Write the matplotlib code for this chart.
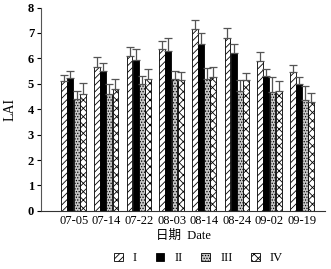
import matplotlib
matplotlib.use("Agg")
import matplotlib.pyplot as plt
import numpy as np
from matplotlib.patches import Patch

plt.rcParams['font.family'] = ['Liberation Serif', 'Noto Sans CJK SC']
plt.rcParams['hatch.linewidth'] = 0.6

dates = ["07-05", "07-14", "07-22", "08-03", "08-14", "08-24", "09-02", "09-19"]
series_names = ["I", "II", "III", "IV"]
lai_I = [5.10, 5.65, 6.08, 6.35, 7.15, 6.80, 5.88, 5.45]
lai_II = [5.22, 5.50, 5.95, 6.30, 6.55, 6.22, 5.30, 5.00]
lai_III = [4.40, 4.60, 5.00, 5.20, 5.20, 4.72, 4.67, 4.35]
lai_IV = [4.60, 4.80, 5.20, 5.15, 5.28, 5.15, 4.73, 4.30]
err_I = [0.25, 0.40, 0.37, 0.35, 0.37, 0.40, 0.37, 0.30]
err_II = [0.28, 0.30, 0.40, 0.50, 0.43, 0.36, 0.30, 0.28]
err_III = [0.30, 0.40, 0.30, 0.30, 0.43, 0.43, 0.58, 0.55]
err_IV = [0.45, 0.40, 0.38, 0.30, 0.37, 0.27, 0.38, 0.35]

values = [lai_I, lai_II, lai_III, lai_IV]
errors = [err_I, err_II, err_III, err_IV]
faces = ["white", "black", "#c8c8c8", "white"]
hatches = ["/////", None, "......", "xxxx"]

fig = plt.figure(figsize=(3.31, 2.69), dpi=100)
ax = fig.add_axes([0.124, 0.216, 0.858, 0.756])

x = np.arange(len(dates))
w = 0.18
offsets = [-0.29, -0.10, 0.09, 0.28]
for i in range(4):
    ax.bar(x + offsets[i], values[i], width=w, color=faces[i], edgecolor="black",
           hatch=hatches[i], linewidth=0.6, zorder=2)
    ax.errorbar(x + offsets[i], values[i], yerr=[np.zeros(len(dates)), errors[i]],
                fmt="none", ecolor="#555555", elinewidth=0.9, capsize=3, capthick=0.9, zorder=3)

ax.set_xlim(-1.0, 7.7)
ax.set_ylim(0, 8)
ax.set_yticks(range(0, 9))
ax.set_xticks(x)
ax.set_xticklabels(dates, fontsize=9)
ax.tick_params(axis="x", length=0, pad=3)
ax.tick_params(axis="y", length=3, width=0.8, labelsize=9, pad=2)
for lab in ax.get_yticklabels():
    lab.set_fontweight("bold")
ax.spines["top"].set_visible(False)
ax.spines["right"].set_visible(False)
ax.spines["left"].set_color("#555555")
ax.spines["bottom"].set_color("#333333")
ax.set_ylabel("LAI", fontsize=10, labelpad=8)
ax.set_xlabel("日期  Date", fontsize=9, labelpad=2)

handles = [Patch(facecolor=faces[i], edgecolor="black", hatch=hatches[i], linewidth=0.6)
           for i in range(4)]
fig.legend(handles, series_names, loc="lower center", bbox_to_anchor=(0.6, -0.025),
           ncol=4, frameon=False, fontsize=9, handlelength=0.7, handleheight=0.7,
           columnspacing=1.5, handletextpad=0.8)

fig.savefig("out.png", dpi=100)
